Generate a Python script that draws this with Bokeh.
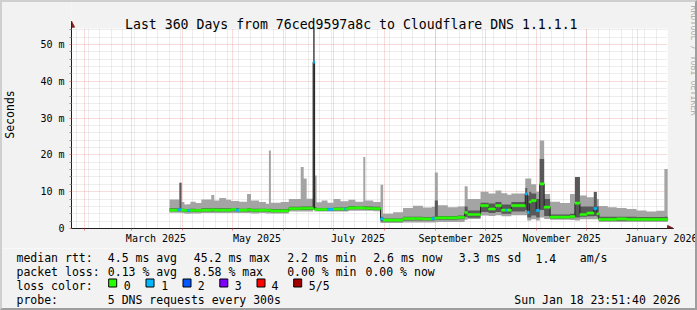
from datetime import datetime, timedelta
import math
from bokeh.plotting import figure
from bokeh.models import (Range1d, FixedTicker, Grid, Label, Arrow, NormalHead, InlineStyleSheet)
from bokeh.layouts import column
from bokeh.embed import file_html
from bokeh.resources import INLINE
from bokeh.core.properties import value

# ---------------- data ----------------
TITLE = "Last 360 Days from 76ced9597a8c to Cloudflare DNS 1.1.1.1"
END = datetime(2026, 1, 18, 23, 51, 40)
SPAN_DAYS = 360
START = END - timedelta(days=SPAN_DAYS)

# segment start, in days since START (values in ms)
seg_day = [59.2, 64.0, 65.2, 66.4, 68.2, 70.0, 71.8, 75.0, 78.4, 84.4,
           86.2, 89.2, 93.4, 96.4, 99.4, 101.2, 106.0, 108.4, 113.2, 117.4,
           119.2, 120.4, 126.4, 131.2, 138.4, 140.2, 142.0, 145.9, 146.8, 148.0,
           151.0, 154.6, 158.2, 162.4, 164.8, 166.0, 167.2, 171.4, 176.2, 177.4,
           182.2, 186.6, 188.2, 194.2, 200.2, 206.2, 212.2, 217.6, 219.4, 221.2,
           227.2, 233.2, 237.4, 239.2, 247.0, 251.8, 256.0, 259.6, 262.0, 263.2,
           265.6, 274.0, 275.2, 276.4, 277.6, 280.6, 282.7, 285.4, 289.0, 295.0,
           301.0, 304.0, 307.0, 311.2, 315.4, 317.2, 318.4, 323.8, 329.2, 335.2,
           341.2, 347.2, 353.2, 358.0]
ping_min = [4.3, 4.3, 4.3, 4.2, 4.0, 4.0, 4.1, 4.1, 4.2, 4.2,
            4.2, 4.2, 4.2, 4.2, 4.2, 4.2, 4.2, 4.1, 4.2, 4.1,
            4.1, 4.1, 4.1, 4.6, 4.6, 4.6, 4.6, 5.0, 4.6, 4.6,
            4.6, 4.6, 4.6, 4.6, 4.6, 4.6, 4.8, 4.8, 4.8, 4.8,
            4.7, 1.5, 1.5, 1.5, 1.6, 1.6, 1.6, 1.6, 1.7, 1.8,
            1.8, 1.8, 2.4, 2.6, 3.5, 3.4, 3.6, 3.3, 3.3, 3.3,
            3.6, 3.6, 2.2, 2.2, 2.5, 2.2, 3.0, 2.6, 2.4, 2.4,
            2.3, 2.2, 2.5, 2.5, 2.5, 2.5, 1.8, 1.8, 1.8, 1.8,
            1.8, 1.8, 1.8, 1.8]
ping_lo = [4.7, 4.7, 4.7, 4.6, 4.5, 4.5, 4.5, 4.5, 4.6, 4.6,
           4.6, 4.6, 4.6, 4.7, 4.6, 4.6, 4.6, 4.5, 4.6, 4.5,
           4.5, 4.4, 4.4, 5.0, 5.0, 5.0, 5.0, 6.0, 5.0, 4.8,
           4.8, 4.8, 4.9, 4.9, 4.9, 4.9, 5.2, 5.2, 5.2, 5.1,
           5.0, 1.9, 1.9, 1.9, 2.2, 2.2, 2.2, 2.2, 2.3, 2.4,
           2.4, 2.5, 3.2, 2.9, 4.5, 4.2, 4.5, 4.0, 4.0, 4.0,
           4.6, 5.0, 3.0, 3.0, 3.5, 3.0, 5.0, 3.4, 2.7, 2.7,
           2.8, 3.0, 3.2, 3.3, 3.4, 3.2, 2.1, 2.1, 2.1, 2.1,
           2.1, 2.1, 2.1, 2.1]
median = [5.0, 5.1, 5.1, 5.0, 4.9, 4.9, 4.9, 4.9, 5.0, 5.1,
          5.0, 5.0, 5.0, 5.2, 5.0, 5.0, 5.1, 4.9, 5.0, 4.9,
          5.0, 4.8, 4.8, 5.4, 5.5, 5.5, 5.5, 45.2, 5.2, 5.2,
          5.2, 5.2, 5.3, 5.3, 5.3, 5.3, 5.6, 5.6, 5.6, 5.5,
          5.4, 2.6, 2.3, 2.3, 2.7, 2.7, 2.6, 2.7, 2.8, 2.9,
          2.9, 3.0, 4.3, 3.8, 6.2, 5.3, 6.2, 5.0, 5.0, 5.0,
          6.2, 9.4, 4.4, 7.2, 7.6, 4.9, 12.1, 5.8, 3.1, 3.1,
          3.2, 6.9, 3.8, 4.2, 5.4, 4.0, 2.5, 2.5, 2.6, 2.5,
          2.5, 2.5, 2.5, 2.5]
ping_hi = [5.5, 5.5, 12.4, 5.4, 5.3, 5.3, 5.4, 5.3, 5.5, 5.6,
           5.5, 5.5, 5.5, 5.6, 5.5, 5.4, 5.6, 5.4, 5.4, 5.3,
           5.4, 5.3, 5.3, 5.9, 6.0, 6.0, 6.0, 54.35, 5.8, 5.6,
           5.6, 5.6, 5.7, 5.7, 5.7, 5.7, 6.1, 6.0, 6.1, 6.0,
           5.9, 3.2, 2.7, 2.7, 3.2, 3.2, 3.1, 3.2, 7.6, 3.4,
           3.4, 3.5, 6.0, 4.9, 7.0, 6.8, 7.2, 6.5, 6.5, 6.5,
           7.2, 11.0, 9.0, 10.0, 9.5, 8.0, 18.9, 8.0, 3.8, 3.8,
           4.0, 14.0, 6.0, 6.0, 9.9, 6.0, 3.2, 3.2, 3.2, 3.2,
           3.1, 3.1, 3.1, 3.2]
ping_max = [7.9, 7.9, 12.4, 7.2, 6.5, 6.6, 7.3, 6.9, 7.9, 9.1,
            7.6, 8.3, 7.8, 7.5, 7.5, 7.3, 9.4, 7.6, 7.2, 6.7,
            21.2, 7.0, 7.2, 8.0, 16.7, 13.6, 8.1, 54.35, 14.4, 7.1,
            7.6, 7.0, 8.0, 7.4, 7.4, 7.4, 7.8, 7.3, 19.4, 7.6,
            7.2, 11.9, 4.0, 4.4, 5.6, 6.2, 5.7, 5.9, 15.2, 6.3,
            5.8, 6.0, 11.5, 8.0, 10.0, 9.5, 10.3, 9.6, 9.6, 9.2,
            9.5, 13.6, 13.6, 13.6, 12.0, 10.0, 23.9, 9.4, 7.3, 6.9,
            9.4, 14.0, 9.0, 8.5, 10.0, 8.0, 6.1, 5.8, 5.6, 5.3,
            4.9, 4.6, 4.8, 16.2]
loss = [0, 1, 1, 0, 0, 1, 0, 0, 0, 0,
        0, 0, 0, 0, 1, 0, 0, 0, 0, 0,
        0, 0, 0, 0, 0, 0, 0, 1, 0, 0,
        0, 1, 0, 0, 1, 0, 0, 0, 0, 0,
        0, 1, 0, 0, 0, 0, 0, 1, 0, 0,
        0, 0, 0, 0, 0, 0, 0, 0, 1, 0,
        0, 1, 1, 0, 0, 1, 0, 0, 0, 0,
        0, 0, 0, 0, 1, 0, 0, 0, 0, 0,
        0, 0, 0, 0]

y_ticks = [0, 10, 20, 30, 40, 50]
y_labels = ["0", "10 m", "20 m", "30 m", "40 m", "50 m"]
y_minor = [2, 4, 6, 8, 12, 14, 16, 18, 22, 24, 26, 28, 32, 34, 36, 38, 42, 44, 46, 48, 52, 54]
Y_TOP = 54.35
label_months = [(2025, 3), (2025, 5), (2025, 7), (2025, 9), (2025, 11), (2026, 1)]
x_labels = ["March 2025", "May 2025", "July 2025", "September 2025", "November 2025", "January 2026"]

loss_names = ["0", "1", "2", "3", "4", "5/5"]
loss_colors = ["#26ff00", "#00b8ff", "#0059ff", "#7e00ff", "#ff0000", "#a10000"]

row_names = ["median rtt:", "packet loss:", "loss color:", "probe:"]
rtt_stats = ["4.5 ms avg", "45.2 ms max", "2.2 ms min", "2.6 ms now", "3.3 ms sd", "1.4", "am/s"]
loss_stats = ["0.13 % avg", "8.58 % max", "0.00 % min", "0.00 % now"]
probe_text = "5 DNS requests every 300s"
stamp_text = "Sun Jan 18 23:51:40 2026"
watermark = "RRDTOOL / TOBI OETIKER"

# ---------------- styles / layout ----------------
BACK = "#f2f2f2"
GRID_C = "#8f8f8f"
MGRID_C = "#de4f4f"
AXIS_C = "#1f1f1f"
ARROW_C = "#801f1f"
SMOKE_OUT = "#a4a4a4"
SMOKE_IN = "#585858"
MONO = "DejaVu Sans Mono"

W, H_TOP, H_FOOT = 697, 248, 62
LEFT, BOTTOM_Y = 67, 228          # canvas position of the graph origin
GRAPH_W, GRAPH_H = 600, 200       # rrdtool graph area in px
PX_PER_DAY = GRAPH_W / SPAN_DAYS
PX_PER_MS = GRAPH_H / Y_TOP


def dday(y, m, d=1):
    return (datetime(y, m, d) - START).total_seconds() / 86400.0


month_starts = []
yy, mm = START.year, START.month + 1
while True:
    dd = dday(yy, mm)
    if dd > SPAN_DAYS:
        break
    month_starts.append(dd)
    mm += 1
    if mm > 12:
        mm, yy = 1, yy + 1

first_monday = datetime(START.year, START.month, START.day) + timedelta(days=(7 - START.weekday()) % 7)
week_days = []
w = first_monday
while (w - START).total_seconds() / 86400.0 <= SPAN_DAYS:
    week_days.append((w - START).total_seconds() / 86400.0)
    w += timedelta(days=7)

label_pos = [dday(y, m) + 15 for (y, m) in label_months]

seg_end = seg_day[1:] + [SPAN_DAYS]
xs = seg_day + [SPAN_DAYS]


def ext(a):
    return list(a) + [a[-1]]


# ---------------- main chart ----------------
# the frame covers the whole area right of the y axis and above the x axis,
# so that arrows, title and watermark can be drawn in it
x_end = (W - LEFT) / PX_PER_DAY
y_end = BOTTOM_Y / PX_PER_MS
p = figure(width=W, height=H_TOP, x_range=Range1d(0, x_end), y_range=Range1d(0, y_end),
           output_backend="svg", toolbar_location=None, title=None,
           min_border_left=LEFT, min_border_right=0, min_border_top=0,
           min_border_bottom=H_TOP - BOTTOM_Y)
if "frame_align" in p.properties():
    p.frame_align = False
p.border_fill_color = BACK
p.background_fill_color = BACK
p.outline_line_color = None

# white canvas of the graph
p.quad(left=[0], right=[SPAN_DAYS], bottom=[0], top=[Y_TOP], fill_color="white",
       line_color=None, level="image")

# grids
yt = FixedTicker(ticks=y_ticks, minor_ticks=y_minor)
xt = FixedTicker(ticks=month_starts, minor_ticks=week_days)
use_cross = "cross_bounds" in Grid().properties()
p.xgrid.grid_line_color = None
p.ygrid.grid_line_color = None
p.ygrid.minor_grid_line_color = None
if use_cross:
    vgrid = Grid(dimension=0, ticker=xt, cross_bounds=(0, Y_TOP), bounds=(0, SPAN_DAYS),
                 grid_line_color=MGRID_C, grid_line_alpha=0.4, grid_line_dash="1 1",
                 minor_grid_line_color=GRID_C, minor_grid_line_alpha=0.32, minor_grid_line_dash="1 1")
    hgrid = Grid(dimension=1, ticker=yt, cross_bounds=(0, SPAN_DAYS), bounds=(0, Y_TOP),
                 grid_line_color=MGRID_C, grid_line_alpha=0.4, grid_line_dash="1 1",
                 minor_grid_line_color=GRID_C, minor_grid_line_alpha=0.32, minor_grid_line_dash="1 1")
    p.add_layout(vgrid)
    p.add_layout(hgrid)
else:
    p.segment(x0=week_days, y0=[0] * len(week_days), x1=week_days, y1=[Y_TOP] * len(week_days),
              line_color=GRID_C, line_alpha=0.32, line_dash="1 1", level="underlay")
    p.segment(x0=[0] * len(y_minor), y0=y_minor, x1=[SPAN_DAYS] * len(y_minor), y1=y_minor,
              line_color=GRID_C, line_alpha=0.32, line_dash="1 1", level="underlay")
    p.segment(x0=month_starts, y0=[0] * len(month_starts), x1=month_starts, y1=[Y_TOP] * len(month_starts),
              line_color=MGRID_C, line_alpha=0.4, line_dash="1 1", level="underlay")
    p.segment(x0=[0] * len(y_ticks), y0=y_ticks, x1=[SPAN_DAYS] * len(y_ticks), y1=y_ticks,
              line_color=MGRID_C, line_alpha=0.4, line_dash="1 1", level="underlay")

# axes
p.yaxis.ticker = yt
p.yaxis.bounds = (0, Y_TOP + 2.0)
p.yaxis.major_label_overrides = {t: l for t, l in zip(y_ticks, y_labels)}
p.yaxis.axis_line_color = AXIS_C
p.yaxis.major_tick_line_color = MGRID_C
p.yaxis.major_tick_line_alpha = 0.7
p.yaxis.major_tick_out = 2
p.yaxis.major_tick_in = 0
p.yaxis.minor_tick_line_color = GRID_C
p.yaxis.minor_tick_out = 2
p.yaxis.minor_tick_in = 0
p.yaxis.major_label_standoff = 5
p.yaxis.major_label_text_font = MONO
p.yaxis.major_label_text_font_size = "10px"
p.yaxis.major_label_text_color = "black"
p.yaxis.axis_label = "Seconds"
p.yaxis.axis_label_text_font = MONO
p.yaxis.axis_label_text_font_size = "11.5px"
p.yaxis.axis_label_text_font_style = "normal"
p.yaxis.axis_label_text_color = "black"
p.yaxis.axis_label_standoff = 20

p.xaxis.ticker = FixedTicker(ticks=label_pos, minor_ticks=month_starts)
p.xaxis.bounds = (0, SPAN_DAYS + 3.6)
p.xaxis.major_label_overrides = {t: l for t, l in zip(label_pos, x_labels)}
p.xaxis.axis_line_color = AXIS_C
p.xaxis.major_tick_line_color = None
p.xaxis.major_tick_out = 2
p.xaxis.major_tick_in = 0
p.xaxis.minor_tick_line_color = MGRID_C
p.xaxis.minor_tick_line_alpha = 0.7
p.xaxis.minor_tick_out = 2
p.xaxis.minor_tick_in = 0
p.xaxis.major_label_standoff = 2
p.xaxis.major_label_text_font = MONO
p.xaxis.major_label_text_font_size = "10px"
p.xaxis.major_label_text_color = "black"

# smoke
p.varea_step(x=xs, y1=ext(ping_min), y2=ext(ping_max), step_mode="after", fill_color=SMOKE_OUT)
p.varea_step(x=xs, y1=ext(ping_lo), y2=ext(ping_hi), step_mode="after", fill_color=SMOKE_IN)
# median
p.step(x=xs, y=ext(median), mode="after", line_color="#202020", line_width=1)
band = 0.3
cols = [loss_colors[l] for l in loss]
p.quad(left=seg_day, right=seg_end, bottom=[m - band for m in median], top=[m + band for m in median],
       fill_color=cols, line_color=cols, line_width=0.5)

# axis arrows
p.add_layout(Arrow(end=NormalHead(size=6, fill_color=ARROW_C, line_color=ARROW_C),
                   x_start=SPAN_DAYS, y_start=0, x_end=SPAN_DAYS + 3.6, y_end=0,
                   line_color=AXIS_C, line_width=1))
p.add_layout(Arrow(end=NormalHead(size=6, fill_color=ARROW_C, line_color=ARROW_C),
                   x_start=0, y_start=Y_TOP, x_end=0, y_end=Y_TOP + 2.0,
                   line_color=AXIS_C, line_width=1))

# title and watermark (screen units are relative to the frame's bottom-left corner)
p.add_layout(Label(x=120.5 - LEFT, y=BOTTOM_Y - 24, x_units="screen", y_units="screen", text=TITLE,
                   text_font=MONO, text_font_size="13.2px", text_baseline="alphabetic",
                   text_align="left", text_color="black"))
p.add_layout(Label(x=689 - LEFT, y=BOTTOM_Y - 5, x_units="screen", y_units="screen", text=watermark,
                   angle=-math.pi / 2, text_align="left", text_baseline="middle",
                   text_font=MONO, text_font_size="8.3px", text_color="#b0b0b0"))

# ---------------- legend / footer ----------------
q = figure(width=W, height=H_FOOT, x_range=Range1d(0, W), y_range=Range1d(H_TOP + H_FOOT, H_TOP),
           output_backend="svg", toolbar_location=None, x_axis_type=None, y_axis_type=None,
           min_border=0, title=None)
if "frame_align" in q.properties():
    q.frame_align = False
q.border_fill_color = BACK
q.background_fill_color = BACK
q.outline_line_color = None
q.grid.visible = False

row_y = [257.8, 271.6, 285.4, 299.2]
col0 = 16
rtt_x = [107.3, 193.3, 286.7, 372.7, 458.3, 535.0, 579.3]
loss_x = [107.3, 193.3, 286.7, 365.0]
sq_x = [112.2, 149.5, 186.5, 223.3, 260.5, 297.2]
sq_lab_x = [123.3, 160.7, 197.3, 234.3, 271.0, 308.3]

tx, ty, tt = [], [], []
for i, n in enumerate(row_names):
    tx.append(col0); ty.append(row_y[i]); tt.append(n)
for x, s in zip(rtt_x, rtt_stats):
    tx.append(x); ty.append(row_y[0]); tt.append(s)
for x, s in zip(loss_x, loss_stats):
    tx.append(x); ty.append(row_y[1]); tt.append(s)
for x, s in zip(sq_lab_x, loss_names):
    tx.append(x); ty.append(row_y[2]); tt.append(s)
tx.append(107.3); ty.append(row_y[3]); tt.append(probe_text)

q.text(x=tx, y=ty, text=tt, text_font=value(MONO), text_font_size=value("11.5px"),
       text_baseline="alphabetic", text_align="left", text_color="black")
q.text(x=[680], y=[row_y[3]], text=[stamp_text], text_font=value(MONO), text_font_size=value("11.5px"),
       text_baseline="alphabetic", text_align="right", text_color="black")
q.rect(x=sq_x, y=[282.5] * len(sq_x), width=8, height=8, fill_color=loss_colors,
       line_color="black", line_width=1)

frame_css = InlineStyleSheet(css=""":host { position: relative; }
:host::after { content: ''; position: absolute; left: 0; top: 0; right: 0; bottom: 0;
  box-sizing: border-box; border-style: solid; border-width: 2px;
  border-color: #cfcfcf #9e9e9e #9e9e9e #cfcfcf; pointer-events: none; z-index: 10; }""")
layout = column(p, q, spacing=0, stylesheets=[frame_css])
open("out.html", "w").write(file_html(layout, INLINE))
